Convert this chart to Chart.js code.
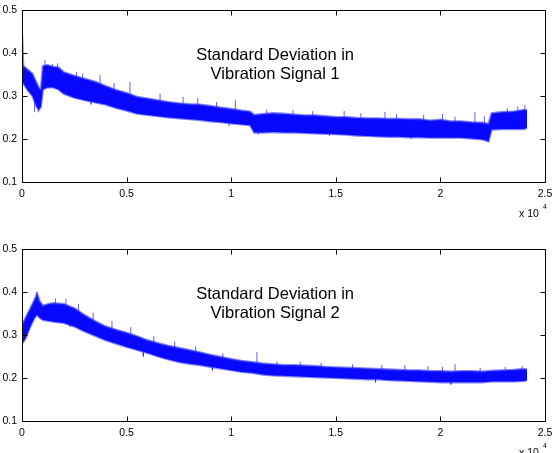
<!DOCTYPE html>
<html>
<head>
<meta charset="utf-8">
<script src="https://cdn.jsdelivr.net/npm/chart.js@4.4.1/dist/chart.umd.min.js"></script>
<style>
html,body{margin:0;padding:0;background:#fff;overflow:hidden;width:555px;height:453px;}
.wrap{position:absolute;left:0;width:555px;height:239px;}
</style>
</head>
<body>
<div class="wrap" style="top:0"><canvas id="c1" width="555" height="239"></canvas></div>
<div class="wrap" style="top:239px"><canvas id="c2" width="555" height="239"></canvas></div>
<script>
// ---- data (envelope of the noisy signals + visible spikes) ----
const xTickLabels = ['0', '0.5', '1', '1.5', '2', '2.5'];
const yTickLabels = ['0.1', '0.2', '0.3', '0.4', '0.5'];
const titles1 = ['Standard Deviation in', 'Vibration Signal 1'];
const titles2 = ['Standard Deviation in', 'Vibration Signal 2'];

const s1X     = [0, 60, 250, 500, 700, 800, 900, 1000, 1200, 1500, 1750, 2000, 2500, 3000, 3500, 4000, 4500, 5000, 5500, 6000, 6500, 7000, 7500, 8000, 8500, 9000, 9500, 10000, 10500, 10900, 11100, 11500, 12000, 12500, 13000, 13500, 14000, 14500, 15000, 15500, 16000, 16500, 17000, 17500, 18000, 18500, 19000, 19500, 20000, 20500, 21000, 21500, 22000, 22300, 22450, 23000, 23500, 24000, 24140];
const s1Upper = [0.445, 0.37, 0.362, 0.352, 0.33, 0.32, 0.315, 0.37, 0.372, 0.368, 0.366, 0.355, 0.347, 0.34, 0.333, 0.323, 0.314, 0.307, 0.298, 0.294, 0.29, 0.286, 0.283, 0.281, 0.28, 0.277, 0.273, 0.27, 0.266, 0.264, 0.256, 0.258, 0.26, 0.259, 0.257, 0.255, 0.255, 0.253, 0.251, 0.251, 0.249, 0.248, 0.248, 0.247, 0.247, 0.246, 0.246, 0.243, 0.245, 0.241, 0.241, 0.239, 0.238, 0.235, 0.26, 0.263, 0.264, 0.268, 0.267];
const s1Lower = [0.34, 0.33, 0.315, 0.30, 0.275, 0.268, 0.275, 0.315, 0.32, 0.32, 0.315, 0.305, 0.296, 0.29, 0.285, 0.28, 0.272, 0.266, 0.259, 0.256, 0.253, 0.25, 0.248, 0.246, 0.244, 0.241, 0.239, 0.236, 0.234, 0.232, 0.215, 0.215, 0.216, 0.215, 0.215, 0.214, 0.213, 0.212, 0.211, 0.21, 0.208, 0.207, 0.206, 0.205, 0.205, 0.204, 0.204, 0.203, 0.203, 0.203, 0.203, 0.201, 0.199, 0.195, 0.222, 0.223, 0.223, 0.223, 0.226];
const s1SpikeX  = [1100, 1450, 1700, 2600, 2900, 3300, 3730, 4400, 5160, 6600, 7700, 8400, 9300, 10200, 11700, 12950, 13900, 15400, 16200, 17350, 17900, 19200, 20100, 20700, 21650, 22100, 23200, 23700, 24040, 600, 780, 3300, 9900, 11300, 14700, 18600, 22280];
const s1SpikeLo = [0.34, 0.34, 0.34, 0.32, 0.32, 0.28, 0.31, 0.29, 0.29, 0.27, 0.26, 0.26, 0.26, 0.25, 0.235, 0.235, 0.235, 0.23, 0.23, 0.225, 0.225, 0.225, 0.225, 0.22, 0.22, 0.22, 0.24, 0.24, 0.245, 0.263, 0.262, 0.281, 0.23, 0.21, 0.207, 0.2, 0.192];
const s1SpikeHi = [0.384, 0.375, 0.376, 0.356, 0.352, 0.33, 0.349, 0.33, 0.333, 0.305, 0.298, 0.295, 0.286, 0.291, 0.268, 0.267, 0.265, 0.265, 0.26, 0.263, 0.258, 0.256, 0.258, 0.252, 0.263, 0.253, 0.272, 0.275, 0.279, 0.3, 0.3, 0.31, 0.25, 0.235, 0.23, 0.22, 0.215];

const s2X     = [0, 150, 400, 600, 720, 850, 1000, 1250, 1500, 2000, 2500, 3000, 3500, 4000, 4500, 5000, 5500, 6000, 6500, 7000, 7500, 8000, 8500, 9000, 9500, 10000, 10500, 11000, 11500, 12000, 12500, 13000, 13500, 14000, 14500, 15000, 15500, 16000, 16500, 17000, 17500, 18000, 18500, 19000, 19500, 20000, 20500, 21000, 21500, 22000, 22500, 23000, 23500, 24000, 24140];
const s2Upper = [0.322, 0.338, 0.362, 0.382, 0.396, 0.378, 0.368, 0.372, 0.374, 0.372, 0.362, 0.346, 0.332, 0.32, 0.312, 0.305, 0.297, 0.288, 0.281, 0.275, 0.27, 0.265, 0.26, 0.254, 0.249, 0.244, 0.24, 0.237, 0.234, 0.232, 0.23, 0.23, 0.229, 0.228, 0.226, 0.225, 0.224, 0.223, 0.222, 0.221, 0.22, 0.219, 0.218, 0.218, 0.216, 0.216, 0.215, 0.216, 0.216, 0.215, 0.217, 0.218, 0.219, 0.221, 0.22];
const s2Lower = [0.28, 0.29, 0.32, 0.34, 0.347, 0.34, 0.335, 0.333, 0.331, 0.328, 0.32, 0.308, 0.298, 0.288, 0.28, 0.272, 0.265, 0.258, 0.25, 0.243, 0.237, 0.233, 0.23, 0.226, 0.222, 0.218, 0.214, 0.212, 0.208, 0.206, 0.205, 0.204, 0.203, 0.202, 0.201, 0.20, 0.199, 0.198, 0.197, 0.197, 0.195, 0.194, 0.193, 0.192, 0.191, 0.19, 0.19, 0.19, 0.19, 0.19, 0.192, 0.192, 0.192, 0.193, 0.195];
const s2SpikeX  = [300, 700, 1600, 2100, 2700, 3400, 4300, 5200, 6300, 7300, 8300, 9600, 11230, 12190, 13300, 14300, 15800, 17200, 18300, 19400, 20100, 20700, 21900, 23100, 23900, 2300, 5800, 9100, 16900, 20500];
const s2SpikeLo = [0.33, 0.36, 0.35, 0.35, 0.34, 0.32, 0.3, 0.29, 0.27, 0.26, 0.25, 0.235, 0.225, 0.22, 0.215, 0.215, 0.21, 0.21, 0.205, 0.205, 0.205, 0.205, 0.2, 0.205, 0.205, 0.335, 0.26, 0.23, 0.2, 0.195];
const s2SpikeHi = [0.352, 0.4, 0.385, 0.384, 0.372, 0.352, 0.332, 0.318, 0.297, 0.285, 0.274, 0.257, 0.26, 0.239, 0.238, 0.235, 0.232, 0.231, 0.23, 0.228, 0.226, 0.232, 0.224, 0.226, 0.228, 0.32, 0.25, 0.218, 0.19, 0.185];

// ---- drawing ----
const FONT = 'Liberation Sans, Arial, sans-serif';

function pts(xs, ys) { return xs.map((x, i) => ({ x: x, y: ys[i] })); }
function spikePts(xs, lo, hi) {
  const out = [];
  xs.forEach((x, i) => { out.push({ x: x, y: lo[i] }, { x: x, y: hi[i] }, { x: x, y: null }); });
  return out;
}

const boxPlugin = {
  id: 'box',
  afterDraw(chart, args, opts) {
    const ctx = chart.ctx, a = chart.chartArea;
    const L = Math.round(a.left) + 0.5, R = Math.round(a.right) + 0.5;
    const T = Math.round(a.top) + 0.5, B = Math.round(a.bottom) + 0.5;
    ctx.save();
    ctx.strokeStyle = '#000';
    ctx.lineWidth = 1;
    ctx.beginPath();
    ctx.rect(L, T, R - L, B - T);
    const tl = 5;
    chart.scales.x.ticks.forEach(t => {
      const px = Math.round(chart.scales.x.getPixelForValue(t.value)) + 0.5;
      ctx.moveTo(px, B); ctx.lineTo(px, B - tl);
      ctx.moveTo(px, T); ctx.lineTo(px, T + tl);
    });
    chart.scales.y.ticks.forEach(t => {
      const py = Math.round(chart.scales.y.getPixelForValue(t.value)) + 0.5;
      ctx.moveTo(L, py); ctx.lineTo(L + tl, py);
      ctx.moveTo(R, py); ctx.lineTo(R - tl, py);
    });
    ctx.stroke();
    // in-plot title
    ctx.fillStyle = '#000';
    ctx.textAlign = 'center';
    ctx.textBaseline = 'alphabetic';
    ctx.font = '16.5px ' + FONT;
    const cx = chart.scales.x.getPixelForValue(12100);
    ctx.fillText(opts.lines[0], cx, a.top + 50);
    ctx.fillText(opts.lines[1], cx, a.top + 69);
    // x 10^4 multiplier
    ctx.textAlign = 'left';
    ctx.font = '10.5px ' + FONT;
    ctx.fillText('x 10', 519, 217);
    ctx.font = '7px ' + FONT;
    ctx.fillText('4', 543, 209);
    ctx.restore();
  }
};

function makeChart(id, xs, up, lo, sx, slo, shi, lines) {
  return new Chart(document.getElementById(id), {
    type: 'line',
    data: {
      datasets: [
        { data: pts(xs, up), borderColor: 'rgba(50,50,255,0.6)', borderWidth: 2.2, backgroundColor: 'rgb(8,8,255)', fill: '+1', pointRadius: 0, tension: 0 },
        { data: pts(xs, lo), borderColor: 'rgba(50,50,255,0.6)', borderWidth: 2.2, backgroundColor: 'rgb(8,8,255)', fill: false, pointRadius: 0, tension: 0 },
        { data: spikePts(sx, slo, shi), borderColor: 'rgba(40,40,255,0.75)', borderWidth: 1, fill: false, pointRadius: 0, spanGaps: false, tension: 0 }
      ]
    },
    options: {
      responsive: false,
      animation: false,
      events: [],
      layout: { padding: { left: 0, top: 10, right: 0, bottom: 0 } },
      plugins: { legend: { display: false }, tooltip: { enabled: false }, box: { lines: lines } },
      scales: {
        x: {
          type: 'linear', min: 0, max: 25000,
          grid: { display: false, drawTicks: false },
          border: { display: false },
          afterFit(s) { s.height = 57; s.paddingLeft = 0; s.paddingRight = 10; },
          afterBuildTicks(s) { s.ticks = xTickLabels.map((l, i) => ({ value: i * 5000 })); },
          ticks: {
            color: '#000', padding: 6, maxRotation: 0, autoSkip: false,
            font: { family: FONT, size: 10.5 },
            callback: (v, i) => xTickLabels[i]
          }
        },
        y: {
          type: 'linear', min: 0.1, max: 0.5,
          grid: { display: false, drawTicks: false },
          border: { display: false },
          afterFit(s) { s.width = 22; s.paddingTop = 0; s.paddingBottom = 0; },
          afterBuildTicks(s) { s.ticks = yTickLabels.map(l => ({ value: parseFloat(l) })); },
          ticks: {
            color: '#000', padding: 5, autoSkip: false,
            font: { family: FONT, size: 10.5 },
            callback: (v, i) => yTickLabels[i]
          }
        }
      }
    },
    plugins: [boxPlugin]
  });
}

makeChart('c1', s1X, s1Upper, s1Lower, s1SpikeX, s1SpikeLo, s1SpikeHi, titles1);
makeChart('c2', s2X, s2Upper, s2Lower, s2SpikeX, s2SpikeLo, s2SpikeHi, titles2);
</script>
</body>
</html>
